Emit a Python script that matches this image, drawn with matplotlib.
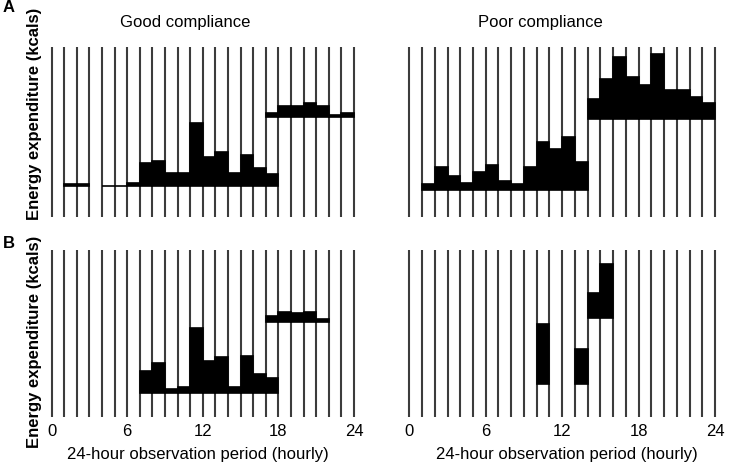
import numpy as np
import matplotlib.pyplot as plt

plt.rcParams['font.family'] = ['Liberation Sans', 'DejaVu Sans']

# hourly energy expenditure (arbitrary kcal units)
# each bar: start hour, baseline, top
good_a_hours = [1, 2, 4, 5, 6, 7, 8, 9, 10, 11, 12, 13, 14, 15, 16, 17,
                17, 18, 19, 20, 21, 22, 23]
good_a_base = [31] * 16 + [99.3] * 7
good_a_top = [32.3, 32.3, 31, 31, 33.3, 54, 56, 43.3, 43.3, 93.3, 60, 64.7, 43.3, 61.7, 49, 42.3,
              103.3, 110.7, 110.7, 114, 110.7, 101.7, 103.3]

poor_a_hours = list(range(1, 24))
poor_a_base = [26.7] * 13 + [97.3] * 10
poor_a_top = [32.3, 50, 40.7, 34, 44.7, 51.7, 35.7, 32.3, 50, 74.7, 67.7, 80, 55,
              117.7, 137.7, 160, 139.3, 131.7, 162.7, 126.7, 126.7, 119.3, 114]

good_b_hours = [7, 8, 9, 10, 11, 12, 13, 14, 15, 16, 17,
                17, 18, 19, 20, 21]
good_b_base = [23.3] * 11 + [94.3] * 5
good_b_top = [46, 54, 27.7, 30, 88.3, 55.7, 59.3, 30, 60.7, 42.3, 39,
              101, 105, 103.3, 105, 97.7]

poor_b_hours = [10, 13, 14, 15]
poor_b_base = [32.7, 32.7, 98.3, 98.3]
poor_b_top = [92.7, 67.7, 124, 152.3]

hours = np.arange(0, 25)
ticks = [0, 6, 12, 18, 24]

W, H = 729, 462
fig = plt.figure(figsize=(W / 100, H / 100), dpi=100)


def px_axes(x0, x1, ytop, ybot):
    # x0/x1: pixel position of hour 0 and hour 24
    step = (x1 - x0) / 24
    left = x0 - 0.5 * step
    width = 25 * step
    return fig.add_axes([left / W, (H - ybot) / H, width / W, (ybot - ytop) / H])


def panel(ax, hrs, base, top, ymax, xticks):
    ax.set_xlim(-0.5, 24.5)
    ax.set_ylim(0, ymax)
    ax.vlines(hours, 0, ymax, color='#3c3c3c', lw=1.5, zorder=1)
    h = np.array(top) - np.array(base)
    ax.bar(hrs, h, bottom=base, width=1, align='edge', color='black',
           edgecolor='black', lw=1.2, zorder=2)
    for s in ax.spines.values():
        s.set_visible(False)
    ax.set_yticks([])
    if xticks:
        ax.set_xticks(ticks)
        ax.tick_params(axis='x', length=0, pad=5, labelsize=12)
    else:
        ax.set_xticks([])


ax1 = px_axes(51.5, 354, 46.7, 216.7)
panel(ax1, good_a_hours, good_a_base, good_a_top, 170, False)
ax2 = px_axes(409.3, 715, 46.7, 216.7)
panel(ax2, poor_a_hours, poor_a_base, poor_a_top, 170, False)
ax3 = px_axes(51.5, 354, 250, 416.7)
panel(ax3, good_b_hours, good_b_base, good_b_top, 166.7, True)
ax4 = px_axes(409.3, 715, 250, 416.7)
panel(ax4, poor_b_hours, poor_b_base, poor_b_top, 166.7, True)


def ftext(x, y, s, **kw):
    fig.text(x / W, 1 - y / H, s, ha='center', va='center', **kw)


ftext(185, 23, 'Good compliance', fontsize=12)
ftext(540, 23, 'Poor compliance', fontsize=12)
ftext(35, 114, 'Energy expenditure (kcals)', fontsize=12, fontweight='bold', rotation=90)
ftext(35, 342, 'Energy expenditure (kcals)', fontsize=12, fontweight='bold', rotation=90)
ftext(198, 454, '24-hour observation period (hourly)', fontsize=12)
ftext(567, 454, '24-hour observation period (hourly)', fontsize=12)
ftext(9, 8, 'A', fontsize=12, fontweight='bold')
ftext(9, 243, 'B', fontsize=12, fontweight='bold')

fig.savefig('out.png', dpi=100)
